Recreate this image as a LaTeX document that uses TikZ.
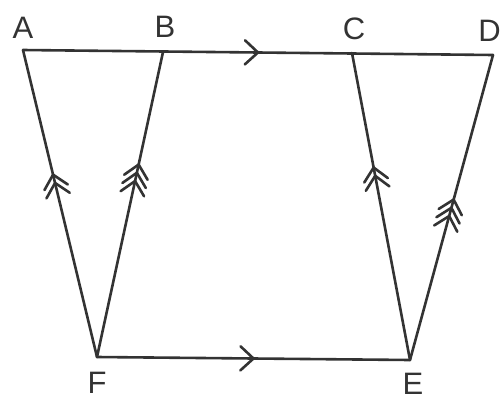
\documentclass[tikz,border=0pt]{standalone}
\usepackage{fontspec}
\setmainfont{Liberation Sans}
\usetikzlibrary{decorations.markings}
\definecolor{ink}{HTML}{333333}
\newcommand{\chevmark}{\draw[ink,line width=2.6pt,line cap=round,line join=round] (-13pt,-12pt) -- (0pt,0pt) -- (-13pt,12pt);}
\tikzset{
  seg/.style={draw=ink,line width=2.6pt,line cap=round,line join=round},
  one/.style={postaction={decorate,decoration={markings,
     mark=at position #1 with {\chevmark}}}},
  two/.style={postaction={decorate,decoration={markings,
     mark=at position #1 with {\chevmark},
     mark=at position #1+0.027 with {\chevmark}}}},
  three/.style={postaction={decorate,decoration={markings,
     mark=at position #1 with {\chevmark},
     mark=at position #1+0.027 with {\chevmark},
     mark=at position #1+0.054 with {\chevmark}}}},
  lab/.style={text=ink,font=\fontsize{31}{31}\selectfont,inner sep=0pt}
}
\begin{document}
\begin{tikzpicture}[x=1pt,y=-1pt]
\useasboundingbox (0,0) rectangle (501,402);
\coordinate (A) at (23,50);
\coordinate (B) at (163,52);
\coordinate (C) at (352,53);
\coordinate (D) at (493,55);
\coordinate (F) at (97,357);
\coordinate (E) at (410,360);
\node[lab] (lA) at (23,28) {A};
\node[lab,anchor=east] (lD) at (501,31) {D};
\node[lab] (lB) at (165,27) {B};
\node[lab] (lC) at (354,29) {C};
\node[lab] (lF) at (97,383) {F};
\node[lab] (lE) at (413,384) {E};
\draw[seg,one=0.5] (A) -- (D);
\draw[seg,one=0.5] (F) -- (E);
\draw[seg,two=0.567] (F) -- (A);
\draw[seg,three=0.577] (F) -- (B);
\draw[seg,two=0.60] (E) -- (C);
\draw[seg,three=0.472] (E) -- (D);
\end{tikzpicture}
\end{document}
